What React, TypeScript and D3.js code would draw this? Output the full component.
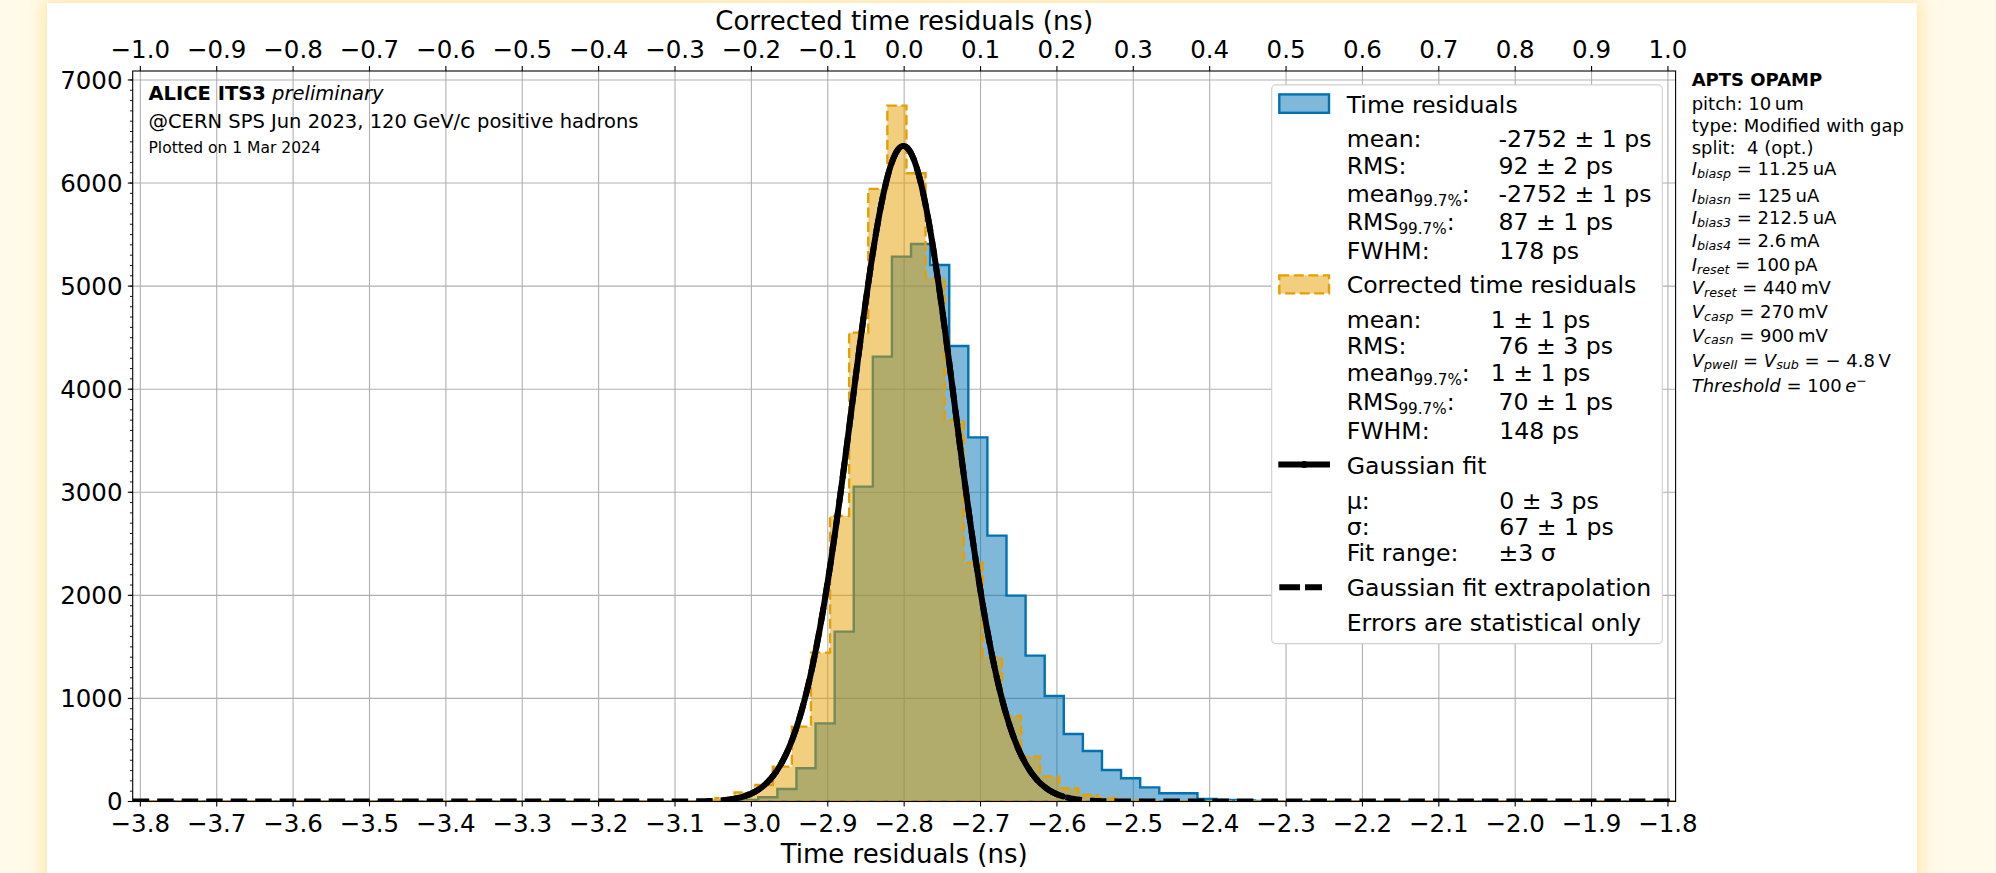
import React from 'react';
import * as d3 from 'd3';

// axis ticks (ns on bottom, corrected ns on top, counts on left)
const xTicks = [-3.8, -3.7, -3.6, -3.5, -3.4, -3.3, -3.2, -3.1, -3.0, -2.9, -2.8, -2.7, -2.6, -2.5, -2.4, -2.3, -2.2, -2.1, -2.0, -1.9, -1.8];
const topTicks = [-1.0, -0.9, -0.8, -0.7, -0.6, -0.5, -0.4, -0.3, -0.2, -0.1, 0.0, 0.1, 0.2, 0.3, 0.4, 0.5, 0.6, 0.7, 0.8, 0.9, 1.0];
const yTicks = [0, 1000, 2000, 3000, 4000, 5000, 6000, 7000];

// histograms (bin width 25 ps)
const binWidth = 0.025;
const blueFirstEdge = -3.041;
const blueCounts = [5, 15, 41, 121, 322, 758, 1648, 3055, 4316, 5286, 5409, 5205, 4419, 3533, 2579, 1997, 1415, 1024, 655, 490, 306, 225, 137, 80, 80, 24, 15, 10, 6, 4, 2];
const orangeFirstEdge = -3.072;
const orangeCounts = [10, 31, 89, 160, 338, 726, 1444, 2770, 4549, 5943, 6751, 6095, 5076, 3701, 2317, 1399, 830, 435, 241, 128, 63, 31, 15, 8, 4];

// gaussian fit parameters
const fitMu = -2.801;
const fitSigma = 0.067;
const fitAmp = 6360;
const fitDrawRange = [-3.028, -2.592];

// legend rows
const timeStats = [
  { label: 'mean', sub: '', value: '-2752 \u00b1 1 ps', vx: 1498.5 },
  { label: 'RMS', sub: '', value: '92 \u00b1 2 ps', vx: 1498.5 },
  { label: 'mean', sub: '99.7%', value: '-2752 \u00b1 1 ps', vx: 1498.5 },
  { label: 'RMS', sub: '99.7%', value: '87 \u00b1 1 ps', vx: 1498.5 },
  { label: 'FWHM', sub: '', value: '178 ps', vx: 1499.3 },
];
const corrStats = [
  { label: 'mean', sub: '', value: '1 \u00b1 1 ps', vx: 1490.7 },
  { label: 'RMS', sub: '', value: '76 \u00b1 3 ps', vx: 1498.5 },
  { label: 'mean', sub: '99.7%', value: '1 \u00b1 1 ps', vx: 1490.7 },
  { label: 'RMS', sub: '99.7%', value: '70 \u00b1 1 ps', vx: 1498.5 },
  { label: 'FWHM', sub: '', value: '148 ps', vx: 1499.3 },
];
const fitStats = [
  { label: '\u03bc', sub: '', value: '0 \u00b1 3 ps', vx: 1499.3 },
  { label: '\u03c3', sub: '', value: '67 \u00b1 1 ps', vx: 1499.3 },
  { label: 'Fit range', sub: '', value: '\u00b13 \u03c3', vx: 1498.5 },
];

// chip settings on the right
const infoLines = ['pitch: 10\u2009um', 'type: Modified with gap', 'split:\u00a0\u00a04 (opt.)'];
const biasLines = [
  { sym: 'I', sub: 'biasp', val: '11.25\u2009uA' },
  { sym: 'I', sub: 'biasn', val: '125\u2009uA' },
  { sym: 'I', sub: 'bias3', val: '212.5\u2009uA' },
  { sym: 'I', sub: 'bias4', val: '2.6\u2009mA' },
  { sym: 'I', sub: 'reset', val: '100\u2009pA' },
  { sym: 'V', sub: 'reset', val: '440\u2009mV' },
  { sym: 'V', sub: 'casp', val: '270\u2009mV' },
  { sym: 'V', sub: 'casn', val: '900\u2009mV' },
];

const W = 1996;
const H = 873;
const FONT = 'DejaVu Sans';
const LEG = 23.6;
const plot = { left: 132.7, right: 1675.6, top: 71, bottom: 801.5 };

const x = d3.scaleLinear().domain([-3.81, -1.79]).range([plot.left, plot.right]);
const xTop = d3.scaleLinear().domain([-1.01, 1.01]).range([plot.left, plot.right]);
const y = d3.scaleLinear().domain([0, 7087]).range([plot.bottom, plot.top]);

const fmt = (v: number) => (v < -1e-9 ? '\u2212' : '') + Math.abs(v).toFixed(1);

function histPath(first: number, counts: number[]) {
  const pts: [number, number][] = [[-3.81, 0]];
  counts.forEach((c, i) => pts.push([first + i * binWidth, c]));
  pts.push([first + counts.length * binWidth, 0]);
  pts.push([-1.79, 0]);
  return d3.area<[number, number]>()
    .x(d => x(d[0]))
    .y0(y(0))
    .y1(d => y(d[1]))
    .curve(d3.curveStepAfter)(pts) || '';
}

const gauss = (t: number) => fitAmp * Math.exp(-0.5 * ((t - fitMu) / fitSigma) ** 2);
const gLine = d3.line<number>().x(t => x(t)).y(t => y(gauss(t)));

const BLUE = '#0072B2';
const ORANGE = '#E69F00';

function StatRow({ row, by }: { row: any; by: number }) {
  return (
    <g fontSize={LEG}>
      <text x={1346.7} y={by}>
        <tspan>{row.label}</tspan>
        {row.sub ? <tspan fontSize={15.2} dy={4}>{row.sub}</tspan> : null}
        <tspan dy={row.sub ? -4 : 0}>:</tspan>
      </text>
      <text x={row.vx} y={by}>{row.value}</text>
    </g>
  );
}

export default function App() {
  const minor = d3.range(0, 7001, 100);
  const fitRange = d3.range(fitDrawRange[0], fitDrawRange[1] + 1e-9, 0.001);
  const extrap = d3.range(-3.81, -1.79, 0.002);
  const infoBase = [110, 132.3, 154.3];
  const biasBase = [175, 201.7, 224.3, 247.3, 271.3, 294.3, 318.3, 341.7];

  return (
    <div style={{ position: 'fixed', left: 0, top: 0, width: W, height: H, background: '#fffaea', overflow: 'hidden' }}>
      <div style={{ position: 'absolute', left: 47, top: 3, width: 1870, height: 900, background: '#ffffff', boxShadow: '0 0 16px 3px rgba(255, 212, 100, 0.55)' }} />
      <svg width={W} height={H} style={{ position: 'absolute', left: 0, top: 0 }} fontFamily={FONT}>
        <defs>
          <clipPath id="plotclip">
            <rect x={plot.left} y={plot.top} width={plot.right - plot.left} height={plot.bottom - plot.top} />
          </clipPath>
        </defs>

        {/* grid */}
        <g stroke="#b0b0b0" strokeWidth={1.1}>
          {xTicks.map(t => <line key={'gx' + t} x1={x(t)} x2={x(t)} y1={plot.top} y2={plot.bottom} />)}
          {yTicks.map(t => <line key={'gy' + t} x1={plot.left} x2={plot.right} y1={y(t)} y2={y(t)} />)}
        </g>

        <g clipPath="url(#plotclip)">
          <path d={histPath(blueFirstEdge, blueCounts)} fill={BLUE} fillOpacity={0.5} stroke={BLUE} strokeWidth={2.4} strokeLinejoin="miter" />
          <path d={histPath(orangeFirstEdge, orangeCounts)} fill={ORANGE} fillOpacity={0.5} stroke={ORANGE} strokeWidth={2.4} strokeDasharray="10 4.5" />
          <path d={gLine(extrap) || ''} fill="none" stroke="#000" strokeWidth={6} strokeDasharray="16.5 8" />
          <path d={gLine(fitRange) || ''} fill="none" stroke="#000" strokeWidth={6} strokeLinecap="round" />
        </g>

        {/* spines */}
        <rect x={plot.left} y={plot.top} width={plot.right - plot.left} height={plot.bottom - plot.top} fill="none" stroke="#000" strokeWidth={1.1} />

        {/* bottom axis */}
        <g>
          {xTicks.map(t => (
            <g key={'bx' + t}>
              <line x1={x(t)} x2={x(t)} y1={plot.bottom} y2={plot.bottom + 4.9} stroke="#000" strokeWidth={1.1} />
              <text x={x(t)} y={831.7} fontSize={24.5} textAnchor="middle">{fmt(t)}</text>
            </g>
          ))}
          <text x={(plot.left + plot.right) / 2} y={863} fontSize={26} textAnchor="middle">Time residuals (ns)</text>
        </g>

        {/* top axis */}
        <g>
          {topTicks.map(t => (
            <g key={'tx' + t}>
              <line x1={xTop(t)} x2={xTop(t)} y1={plot.top} y2={plot.top - 4.9} stroke="#000" strokeWidth={1.1} />
              <text x={xTop(t)} y={58.3} fontSize={24.5} textAnchor="middle">{fmt(t)}</text>
            </g>
          ))}
          <text x={(plot.left + plot.right) / 2} y={30} fontSize={26} textAnchor="middle">Corrected time residuals (ns)</text>
        </g>

        {/* left axis */}
        <g>
          {minor.map(t => <line key={'my' + t} x1={plot.left} x2={plot.left - 2.8} y1={y(t)} y2={y(t)} stroke="#000" strokeWidth={0.9} />)}
          {yTicks.map(t => (
            <g key={'ly' + t}>
              <line x1={plot.left} x2={plot.left - 4.9} y1={y(t)} y2={y(t)} stroke="#000" strokeWidth={1.1} />
              <text x={122.5} y={y(t) + 8.6} fontSize={24.5} textAnchor="end">{t}</text>
            </g>
          ))}
        </g>

        {/* top-left annotation */}
        <text x={148.5} y={100} fontSize={19.5}>
          <tspan fontWeight="bold">ALICE ITS3</tspan>
          <tspan fontStyle="italic"> preliminary</tspan>
        </text>
        <text x={148.5} y={128.3} fontSize={19.5}>@CERN SPS Jun 2023, 120 GeV/c positive hadrons</text>
        <text x={148.5} y={153} fontSize={15.5}>Plotted on 1 Mar 2024</text>

        {/* legend */}
        <rect x={1271.7} y={84.9} width={390.6} height={558.7} rx={4} fill="#ffffff" stroke="#d0d0d0" strokeWidth={1.1} />
        <rect x={1279.3} y={94.4} width={49.7} height={18.4} fill={BLUE} fillOpacity={0.5} stroke={BLUE} strokeWidth={2.4} />
        <text x={1346.7} y={112.8} fontSize={LEG}>Time residuals</text>
        {timeStats.map((r, i) => <StatRow key={'ts' + i} row={r} by={[147.2, 174, 201.6, 229.5, 259][i]} />)}

        <rect x={1279.3} y={275.4} width={49.7} height={18} fill={ORANGE} fillOpacity={0.5} stroke={ORANGE} strokeWidth={2.4} strokeDasharray="10 4.5" />
        <text x={1346.7} y={292.7} fontSize={LEG}>Corrected time residuals</text>
        {corrStats.map((r, i) => <StatRow key={'cs' + i} row={r} by={[327.9, 353.9, 381.4, 410.1, 438.8][i]} />)}

        <line x1={1278.3} x2={1330} y1={464.5} y2={464.5} stroke="#000" strokeWidth={6} />
        <circle cx={1304.2} cy={464.5} r={3.6} fill="#000" />
        <text x={1346.7} y={474.4} fontSize={LEG}>Gaussian fit</text>
        {fitStats.map((r, i) => <StatRow key={'fs' + i} row={r} by={[508.5, 534.5, 561.3][i]} />)}

        <line x1={1279.3} x2={1322} y1={587.3} y2={587.3} stroke="#000" strokeWidth={6} strokeDasharray="20.7 5" />
        <text x={1346.7} y={595.7} fontSize={LEG}>Gaussian fit extrapolation</text>
        <text x={1346.7} y={631} fontSize={LEG}>Errors are statistical only</text>

        {/* chip settings */}
        <g fontSize={18}>
          <text x={1691.7} y={86} fontWeight="bold">APTS OPAMP</text>
          {infoLines.map((s, i) => <text key={'il' + i} x={1691.7} y={infoBase[i]}>{s}</text>)}
          {biasLines.map((b, i) => (
            <text key={'bl' + i} x={1691.7} y={biasBase[i]}>
              <tspan fontStyle="italic">{b.sym}</tspan>
              <tspan fontStyle="italic" fontSize={12.7} dy={2.5}>{b.sub}</tspan>
              <tspan dy={-2.5}>{'\u00a0=\u00a0' + b.val}</tspan>
            </text>
          ))}
          <text x={1691.7} y={366.7}>
            <tspan fontStyle="italic">V</tspan>
            <tspan fontStyle="italic" fontSize={12.7} dy={2.5}>pwell</tspan>
            <tspan dy={-2.5}>{'\u00a0=\u00a0'}</tspan>
            <tspan fontStyle="italic">V</tspan>
            <tspan fontStyle="italic" fontSize={12.7} dy={2.5}>sub</tspan>
            <tspan dy={-2.5}>{'\u00a0=\u00a0\u2212\u00a04.8\u2009V'}</tspan>
          </text>
          <text x={1691.7} y={392.3}>
            <tspan fontStyle="italic">Threshold</tspan>
            <tspan>{'\u00a0=\u00a0100\u2009'}</tspan>
            <tspan fontStyle="italic">e</tspan>
            <tspan fontSize={12.7} dy={-7}>{'\u2212'}</tspan>
          </text>
        </g>
      </svg>
    </div>
  );
}
